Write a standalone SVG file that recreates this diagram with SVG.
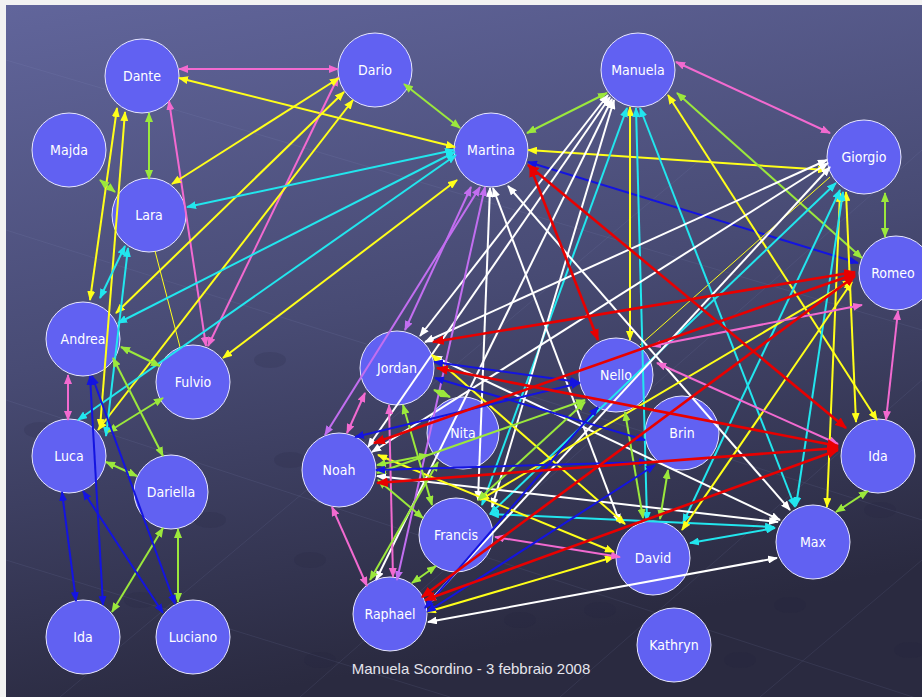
<svg xmlns="http://www.w3.org/2000/svg" width="922" height="697" viewBox="0 0 922 697">
  <defs>
    <linearGradient id="bg" x1="0" y1="0" x2="0.25" y2="1">
      <stop offset="0" stop-color="#61659b"/>
      <stop offset="0.5" stop-color="#484b74"/>
      <stop offset="1" stop-color="#2a2a40"/>
    </linearGradient>
    <marker id="a-pk" viewBox="0 0 10 8" refX="9" refY="4" markerWidth="10" markerHeight="8" markerUnits="userSpaceOnUse" orient="auto-start-reverse"><path d="M0,0 L10,4 L0,8 z" fill="#f26ad0"/></marker>
    <marker id="a-yl" viewBox="0 0 10 8" refX="9" refY="4" markerWidth="10" markerHeight="8" markerUnits="userSpaceOnUse" orient="auto-start-reverse"><path d="M0,0 L10,4 L0,8 z" fill="#ffff1a"/></marker>
    <marker id="a-gr" viewBox="0 0 10 8" refX="9" refY="4" markerWidth="10" markerHeight="8" markerUnits="userSpaceOnUse" orient="auto-start-reverse"><path d="M0,0 L10,4 L0,8 z" fill="#9be83c"/></marker>
    <marker id="a-cy" viewBox="0 0 10 8" refX="9" refY="4" markerWidth="10" markerHeight="8" markerUnits="userSpaceOnUse" orient="auto-start-reverse"><path d="M0,0 L10,4 L0,8 z" fill="#22e6ee"/></marker>
    <marker id="a-wh" viewBox="0 0 10 8" refX="9" refY="4" markerWidth="10" markerHeight="8" markerUnits="userSpaceOnUse" orient="auto-start-reverse"><path d="M0,0 L10,4 L0,8 z" fill="#ffffff"/></marker>
    <marker id="a-rd" viewBox="0 0 10 8" refX="9" refY="4" markerWidth="12" markerHeight="10" markerUnits="userSpaceOnUse" orient="auto-start-reverse"><path d="M0,0 L10,4 L0,8 z" fill="#e80000"/></marker>
    <marker id="a-bl" viewBox="0 0 10 8" refX="9" refY="4" markerWidth="10" markerHeight="8" markerUnits="userSpaceOnUse" orient="auto-start-reverse"><path d="M0,0 L10,4 L0,8 z" fill="#1414e0"/></marker>
    <marker id="a-vi" viewBox="0 0 10 8" refX="9" refY="4" markerWidth="10" markerHeight="8" markerUnits="userSpaceOnUse" orient="auto-start-reverse"><path d="M0,0 L10,4 L0,8 z" fill="#c26ef0"/></marker>
  </defs>
  <style>
    .node circle { fill: #6161f2; stroke: #e6e6ff; stroke-width: 1; }
    .node text { font-family: "DejaVu Sans Condensed", "DejaVu Sans", Verdana, sans-serif; font-size: 14px; fill: #ffffff; text-anchor: middle; }
    .floor line { stroke: #a0a6d8; stroke-opacity: 0.1; stroke-width: 1; }
    .floor ellipse { fill: #22223a; fill-opacity: 0.15; }
    #connectors line { stroke-width: 2; fill: none; }
    .pk { stroke: #f26ad0; marker-start: url(#a-pk); marker-end: url(#a-pk); }
    .yl { stroke: #ffff1a; marker-start: url(#a-yl); marker-end: url(#a-yl); }
    .gr { stroke: #9be83c; marker-start: url(#a-gr); marker-end: url(#a-gr); }
    .cy { stroke: #22e6ee; marker-start: url(#a-cy); marker-end: url(#a-cy); }
    .wh { stroke: #ffffff; marker-start: url(#a-wh); marker-end: url(#a-wh); }
    .rd { stroke: #e80000; marker-start: url(#a-rd); marker-end: url(#a-rd); }
    #connectors line.rd { stroke-width: 2.6; }
    .bl { stroke: #1414e0; marker-start: url(#a-bl); marker-end: url(#a-bl); }
    .vi { stroke: #c26ef0; marker-start: url(#a-vi); marker-end: url(#a-vi); }
    #connectors line.thin { stroke: #ffff1a; stroke-width: 1; }
    .caption { font-family: "Liberation Sans", Arial, sans-serif; font-size: 15px; fill: #e4e4ec; text-anchor: middle; }
  </style>

  <!-- page and floor -->
  <rect x="0" y="0" width="922" height="697" fill="#f2f2f2"/>
  <rect x="6" y="5" width="916" height="692" fill="url(#bg)"/>
  <g class="floor">
    <line x1="6" y1="60" x2="922" y2="330"/>
    <line x1="6" y1="230" x2="922" y2="520"/>
    <line x1="6" y1="400" x2="922" y2="700"/>
    <line x1="6" y1="560" x2="450" y2="697"/>
    <line x1="300" y1="697" x2="922" y2="150"/>
    <line x1="560" y1="697" x2="922" y2="380"/>
    <line x1="760" y1="697" x2="922" y2="560"/>
    <line x1="60" y1="697" x2="700" y2="160"/>
    <ellipse cx="40" cy="430" rx="16" ry="8"/>
    <ellipse cx="140" cy="600" rx="16" ry="8"/>
    <ellipse cx="210" cy="520" rx="16" ry="8"/>
    <ellipse cx="270" cy="360" rx="16" ry="8"/>
    <ellipse cx="290" cy="460" rx="16" ry="8"/>
    <ellipse cx="310" cy="560" rx="16" ry="8"/>
    <ellipse cx="320" cy="660" rx="16" ry="8"/>
    <ellipse cx="520" cy="620" rx="16" ry="8"/>
    <ellipse cx="600" cy="610" rx="16" ry="8"/>
    <ellipse cx="790" cy="605" rx="16" ry="8"/>
    <ellipse cx="740" cy="660" rx="16" ry="8"/>
    <ellipse cx="880" cy="510" rx="16" ry="8"/>
    <ellipse cx="910" cy="650" rx="16" ry="8"/>
  </g>

  <!-- people -->
  <g id="dante" class="node"><circle cx="142" cy="76" r="37"/><text x="142" y="81">Dante</text></g>
  <g id="dario" class="node"><circle cx="375" cy="70" r="37"/><text x="375" y="75">Dario</text></g>
  <g id="majda" class="node"><circle cx="69" cy="150" r="37"/><text x="69" y="155">Majda</text></g>
  <g id="lara" class="node"><circle cx="149" cy="215" r="37"/><text x="149" y="220">Lara</text></g>
  <g id="andrea" class="node"><circle cx="83" cy="339" r="37"/><text x="83" y="344">Andrea</text></g>
  <g id="fulvio" class="node"><circle cx="193" cy="382" r="37"/><text x="193" y="387">Fulvio</text></g>
  <g id="luca" class="node"><circle cx="69" cy="456" r="37"/><text x="69" y="461">Luca</text></g>
  <g id="dariella" class="node"><circle cx="171" cy="492" r="37"/><text x="171" y="497">Dariella</text></g>
  <g id="ida-left" class="node"><circle cx="83" cy="637" r="37"/><text x="83" y="642">Ida</text></g>
  <g id="luciano" class="node"><circle cx="193" cy="637" r="37"/><text x="193" y="642">Luciano</text></g>
  <g id="martina" class="node"><circle cx="491" cy="150" r="37"/><text x="491" y="155">Martina</text></g>
  <g id="manuela" class="node"><circle cx="638" cy="70" r="37"/><text x="638" y="75">Manuela</text></g>
  <g id="giorgio" class="node"><circle cx="864" cy="157" r="37"/><text x="864" y="162">Giorgio</text></g>
  <g id="romeo" class="node"><circle cx="896" cy="273" r="37"/><text x="893" y="278">Romeo</text></g>
  <g id="jordan" class="node"><circle cx="397" cy="368" r="37"/><text x="397" y="373">Jordan</text></g>
  <g id="nita" class="node"><circle cx="463" cy="433" r="36"/><text x="463" y="438">Nita</text></g>
  <g id="noah" class="node"><circle cx="339" cy="470" r="37"/><text x="339" y="475">Noah</text></g>
  <g id="francis" class="node"><circle cx="456" cy="535" r="37"/><text x="456" y="540">Francis</text></g>
  <g id="raphael" class="node"><circle cx="390" cy="614" r="37"/><text x="390" y="619">Raphael</text></g>
  <g id="nello" class="node"><circle cx="616" cy="375" r="37"/><text x="616" y="380">Nello</text></g>
  <g id="brin" class="node"><circle cx="682" cy="433" r="37"/><text x="682" y="438">Brin</text></g>
  <g id="david" class="node"><circle cx="653" cy="558" r="37"/><text x="653" y="563">David</text></g>
  <g id="max" class="node"><circle cx="813" cy="542" r="37"/><text x="813" y="547">Max</text></g>
  <g id="ida-right" class="node"><circle cx="878" cy="456" r="37"/><text x="878" y="461">Ida</text></g>
  <g id="kathryn" class="node"><circle cx="674" cy="645" r="37"/><text x="674" y="650">Kathryn</text></g>

  <!-- relations -->
  <g id="connectors">
    <!-- left group -->
    <line class="pk" x1="179" y1="69" x2="338" y2="69"/>
    <line class="yl" x1="179" y1="78" x2="455" y2="147"/>
    <line class="gr" x1="149" y1="113" x2="149" y2="179"/>
    <line class="pk" x1="169" y1="101" x2="206" y2="346"/>
    <line class="pk" x1="338" y1="77" x2="208" y2="346"/>
    <line class="gr" x1="404" y1="84" x2="460" y2="128"/>
    <line class="yl" x1="339" y1="78" x2="172" y2="184"/>
    <line class="yl" x1="344" y1="92" x2="116" y2="313"/>
    <line class="yl" x1="353" y1="100" x2="98" y2="430"/>
    <line class="yl" x1="457" y1="180" x2="223" y2="358"/>
    <line class="thin" x1="155" y1="251" x2="180" y2="347"/>
    <line class="yl" x1="117" y1="108" x2="90" y2="300"/>
    <line class="yl" x1="125" y1="112" x2="100" y2="428"/>
    <line class="cy" x1="454" y1="150" x2="187" y2="207"/>
    <line class="cy" x1="455" y1="152" x2="118" y2="323"/>
    <line class="cy" x1="456" y1="155" x2="78" y2="420"/>
    <line class="cy" x1="125" y1="246" x2="100" y2="298"/>
    <line class="cy" x1="128" y1="248" x2="106" y2="436"/>
    <line class="gr" x1="100" y1="180" x2="115" y2="192"/>
    <line class="gr" x1="121" y1="347" x2="160" y2="366"/>
    <line class="gr" x1="113" y1="358" x2="163" y2="456"/>
    <line class="gr" x1="108" y1="432" x2="163" y2="398"/>
    <line class="gr" x1="106" y1="462" x2="137" y2="476"/>
    <line class="gr" x1="163" y1="528" x2="112" y2="612"/>
    <line class="gr" x1="178" y1="529" x2="178" y2="602"/>
    <line class="pk" x1="68" y1="375" x2="68" y2="420"/>
    <line class="bl" x1="62" y1="492" x2="76" y2="601"/>
    <line class="bl" x1="90" y1="376" x2="103" y2="605"/>
    <line class="bl" x1="92" y1="376" x2="175" y2="604"/>
    <line class="bl" x1="83" y1="491" x2="163" y2="613"/>

    <!-- right group -->
    <line class="gr" x1="527" y1="133" x2="607" y2="93"/>
    <line class="yl" x1="528" y1="150" x2="827" y2="170"/>
    <line class="bl" x1="528" y1="162" x2="858" y2="263"/>
    <line class="pk" x1="676" y1="62" x2="830" y2="133"/>
    <line class="gr" x1="677" y1="93" x2="862" y2="258"/>
    <line class="gr" x1="885" y1="193" x2="885" y2="237"/>
    <line class="yl" x1="630" y1="107" x2="630" y2="340"/>
    <line class="yl" x1="668" y1="95" x2="877" y2="420"/>
    <line class="yl" x1="846" y1="192" x2="856" y2="422"/>
    <line class="yl" x1="840" y1="193" x2="827" y2="507"/>
    <line class="thin" x1="830" y1="177" x2="640" y2="345"/>

    <line class="cy" x1="627" y1="108" x2="482" y2="505"/>
    <line class="cy" x1="636" y1="108" x2="647" y2="521"/>
    <line class="cy" x1="640" y1="108" x2="795" y2="507"/>
    <line class="cy" x1="836" y1="183" x2="490" y2="514"/>
    <line class="cy" x1="840" y1="190" x2="683" y2="523"/>
    <line class="cy" x1="843" y1="192" x2="796" y2="506"/>
    <line class="cy" x1="490" y1="514" x2="774" y2="527"/>
    <line class="cy" x1="690" y1="543" x2="775" y2="528"/>

    <line class="wh" x1="490" y1="188" x2="478" y2="500"/>
    <line class="wh" x1="493" y1="188" x2="620" y2="523"/>
    <line class="wh" x1="508" y1="186" x2="790" y2="510"/>
    <line class="wh" x1="608" y1="95" x2="420" y2="336"/>
    <line class="wh" x1="610" y1="97" x2="368" y2="447"/>
    <line class="wh" x1="612" y1="99" x2="376" y2="580"/>
    <line class="wh" x1="614" y1="100" x2="492" y2="507"/>
    <line class="wh" x1="827" y1="160" x2="425" y2="342"/>
    <line class="wh" x1="828" y1="163" x2="372" y2="452"/>
    <line class="wh" x1="830" y1="167" x2="428" y2="603"/>
    <line class="wh" x1="433" y1="356" x2="780" y2="520"/>
    <line class="wh" x1="377" y1="476" x2="778" y2="522"/>
    <line class="wh" x1="428" y1="622" x2="777" y2="558"/>

    <line class="yl" x1="852" y1="280" x2="480" y2="500"/>
    <line class="yl" x1="852" y1="282" x2="682" y2="530"/>
    <line class="yl" x1="427" y1="612" x2="614" y2="557"/>
    <line class="yl" x1="378" y1="455" x2="614" y2="552"/>
    <line class="yl" x1="432" y1="355" x2="625" y2="524"/>

    <line class="vi" x1="480" y1="187" x2="325" y2="435"/>
    <line class="vi" x1="471" y1="187" x2="405" y2="330"/>
    <line class="vi" x1="485" y1="187" x2="397" y2="580"/>

    <line class="pk" x1="898" y1="311" x2="886" y2="420"/>
    <line class="pk" x1="862" y1="305" x2="652" y2="346"/>
    <line class="pk" x1="657" y1="363" x2="838" y2="444"/>
    <line class="pk" x1="495" y1="537" x2="620" y2="557"/>
    <line class="pk" x1="332" y1="507" x2="367" y2="586"/>
    <line class="pk" x1="365" y1="393" x2="347" y2="433"/>
    <line class="pk" x1="389" y1="405" x2="393" y2="577"/>

    <line class="gr" x1="625" y1="412" x2="643" y2="518"/>
    <line class="gr" x1="668" y1="470" x2="660" y2="519"/>
    <line class="gr" x1="836" y1="512" x2="868" y2="491"/>
    <line class="gr" x1="403" y1="405" x2="432" y2="505"/>
    <line class="gr" x1="377" y1="465" x2="428" y2="455"/>
    <line class="gr" x1="378" y1="480" x2="423" y2="518"/>
    <line class="gr" x1="436" y1="566" x2="412" y2="583"/>
    <line class="gr" x1="438" y1="462" x2="370" y2="580"/>
    <line class="gr" x1="377" y1="473" x2="585" y2="400"/>
    <line class="gr" x1="478" y1="500" x2="585" y2="402"/>
    <line class="gr" x1="434" y1="390" x2="450" y2="397"/>

    <line class="bl" x1="434" y1="362" x2="579" y2="382"/>
    <line class="bl" x1="435" y1="378" x2="645" y2="440"/>
    <line class="bl" x1="355" y1="437" x2="580" y2="383"/>
    <line class="bl" x1="376" y1="470" x2="648" y2="462"/>
    <line class="bl" x1="427" y1="612" x2="655" y2="465"/>
    <line class="bl" x1="425" y1="608" x2="598" y2="407"/>

    <line class="rd" x1="530" y1="166" x2="598" y2="340"/>
    <line class="rd" x1="528" y1="165" x2="846" y2="428"/>
    <line class="rd" x1="855" y1="272" x2="433" y2="342"/>
    <line class="rd" x1="855" y1="274" x2="374" y2="443"/>
    <line class="rd" x1="855" y1="276" x2="422" y2="597"/>
    <line class="rd" x1="437" y1="368" x2="838" y2="446"/>
    <line class="rd" x1="377" y1="483" x2="838" y2="448"/>
    <line class="rd" x1="425" y1="600" x2="838" y2="450"/>
  </g>

  <text class="caption" x="471" y="674">Manuela Scordino - 3 febbraio 2008</text>
</svg>
